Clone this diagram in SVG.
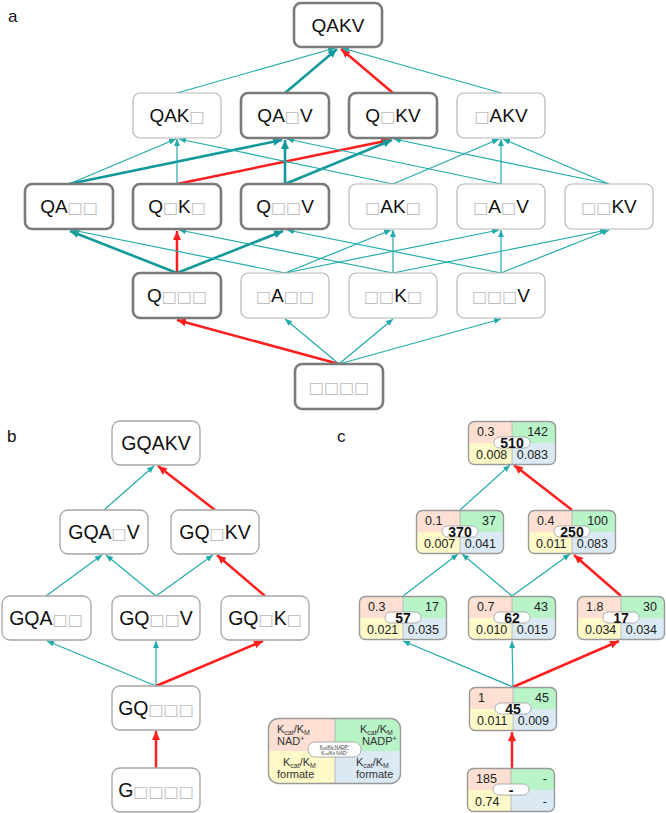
<svg xmlns="http://www.w3.org/2000/svg" xmlns:xlink="http://www.w3.org/1999/xlink" width="666" height="813" viewBox="0 0 666 813">
<style>
.lbl{font-family:"Liberation Sans",Arial,sans-serif;font-size:17px;fill:#111}
.na rect{fill:#fff;stroke:#b5b5b5;stroke-width:1.2}
.na.hi rect{stroke:#7a7a7a;stroke-width:2.6}
.na text{font-family:"Liberation Sans",Arial,sans-serif;font-size:19px;fill:#111;text-anchor:middle}
.nb rect{fill:#fff;stroke:#a5a5a5;stroke-width:1.3}
.nb text{font-family:"Liberation Sans",Arial,sans-serif;font-size:19.5px;fill:#111;text-anchor:middle}
.g{fill:#bdbdbd;font-family:"DejaVu Sans",sans-serif;font-size:16px}
.t{stroke:#22abab;stroke-width:1.2;fill:none;marker-end:url(#mt)}
.tk{stroke:#14999a;stroke-width:2.6;fill:none;marker-end:url(#mk)}
.r{stroke:#ff1e1e;stroke-width:2.5;fill:none;marker-end:url(#mr)}
.q{font-family:"Liberation Sans",Arial,sans-serif;font-size:12.5px;fill:#222}
.e{text-anchor:end}
.num{font-family:"Liberation Sans",Arial,sans-serif;font-size:14px;font-weight:bold;fill:#111;text-anchor:middle}
.lg{font-family:"Liberation Sans",Arial,sans-serif;font-size:11px;fill:#333}
.sub{font-size:7px}
.tiny{font-family:"Liberation Sans",Arial,sans-serif;font-size:4.6px;fill:#333;text-anchor:middle}
</style>
<defs>
<marker id="mt" markerUnits="userSpaceOnUse" markerWidth="7" markerHeight="6" viewBox="0 0 7 6" refX="7" refY="3" orient="auto"><path d="M0,0 L7,3 L0,6 z" fill="#22abab"/></marker>
<marker id="mk" markerUnits="userSpaceOnUse" markerWidth="9" markerHeight="8" viewBox="0 0 9 8" refX="9" refY="4" orient="auto"><path d="M0,0 L9,4 L0,8 z" fill="#14999a"/></marker>
<marker id="mr" markerUnits="userSpaceOnUse" markerWidth="9" markerHeight="8" viewBox="0 0 9 8" refX="9" refY="4" orient="auto"><path d="M0,0 L9,4 L0,8 z" fill="#ff1e1e"/></marker>
<g id="cnode">
<path d="M0,22 V6 A6,6 0 0 1 6,0 H44 V22 Z" fill="#fde0d3"/>
<path d="M44,0 H82 A6,6 0 0 1 88,6 V22 H44 Z" fill="#b8f4c8"/>
<path d="M0,22 H44 V44 H6 A6,6 0 0 1 0,38 Z" fill="#fdf9c8"/>
<path d="M44,22 H88 V38 A6,6 0 0 1 82,44 H44 Z" fill="#dbe9f5"/>
<path d="M44,0 V44" stroke="#b0b0b0" stroke-width="0.8"/>
<rect x="0.5" y="0.5" width="87" height="43" rx="6" fill="none" stroke="#9a9a9a" stroke-width="1.4"/>
<rect x="26" y="16" width="36" height="11" rx="5.5" fill="#fff" stroke="#999" stroke-width="0.8"/>
</g>
</defs>

<text class="lbl" x="8" y="22">a</text>
<text class="lbl" x="7" y="442">b</text>
<text class="lbl" x="337" y="442">c</text>

<g id="connectors">
<!-- panel a -->
<line class="t" x1="177" y1="93" x2="335" y2="48"/>
<line class="tk" x1="285" y1="93" x2="337" y2="49"/>
<line class="r" x1="393" y1="93" x2="341" y2="49"/>
<line class="t" x1="501" y1="93" x2="342" y2="48"/>

<line class="t" x1="69" y1="184" x2="176" y2="139"/>
<line class="tk" x1="69" y1="184" x2="282" y2="140"/>
<line class="t" x1="177" y1="184" x2="177" y2="139"/>
<line class="r" x1="177" y1="184" x2="390" y2="140"/>
<line class="tk" x1="285" y1="184" x2="285" y2="140"/>
<line class="tk" x1="285" y1="184" x2="392" y2="140"/>
<line class="t" x1="393" y1="184" x2="179" y2="139"/>
<line class="t" x1="393" y1="184" x2="499" y2="139"/>
<line class="t" x1="501" y1="184" x2="287" y2="139"/>
<line class="t" x1="501" y1="184" x2="501" y2="139"/>
<line class="t" x1="609" y1="184" x2="394" y2="139"/>
<line class="t" x1="609" y1="184" x2="503" y2="139"/>

<line class="tk" x1="177" y1="273" x2="70" y2="231"/>
<line class="r" x1="177" y1="273" x2="177" y2="231"/>
<line class="tk" x1="177" y1="273" x2="283" y2="231"/>
<line class="t" x1="285" y1="273" x2="72" y2="230"/>
<line class="t" x1="285" y1="273" x2="391" y2="230"/>
<line class="t" x1="285" y1="273" x2="499" y2="230"/>
<line class="t" x1="393" y1="273" x2="179" y2="230"/>
<line class="t" x1="393" y1="273" x2="393" y2="230"/>
<line class="t" x1="393" y1="273" x2="607" y2="230"/>
<line class="t" x1="501" y1="273" x2="287" y2="230"/>
<line class="t" x1="501" y1="273" x2="501" y2="230"/>
<line class="t" x1="501" y1="273" x2="609" y2="230"/>

<line class="r" x1="339" y1="364" x2="177" y2="320"/>
<line class="t" x1="339" y1="364" x2="285" y2="319"/>
<line class="t" x1="339" y1="364" x2="393" y2="319"/>
<line class="t" x1="339" y1="364" x2="501" y2="319"/>

<!-- panel b -->
<line class="t" x1="104" y1="510" x2="154" y2="466"/>
<line class="r" x1="215" y1="510" x2="158" y2="466"/>
<line class="t" x1="46" y1="596" x2="102" y2="555"/>
<line class="t" x1="156" y1="596" x2="106" y2="555"/>
<line class="t" x1="156" y1="596" x2="213" y2="555"/>
<line class="r" x1="265" y1="596" x2="217" y2="555"/>
<line class="t" x1="156" y1="686" x2="47" y2="641"/>
<line class="t" x1="156" y1="686" x2="156" y2="641"/>
<line class="r" x1="156" y1="686" x2="263" y2="641"/>
<line class="r" x1="156" y1="768" x2="156" y2="731"/>

<!-- panel c -->
<line class="t" x1="460" y1="510" x2="510" y2="465"/>
<line class="r" x1="572" y1="510" x2="514" y2="465"/>
<line class="t" x1="403" y1="596" x2="458" y2="554"/>
<line class="t" x1="512" y1="596" x2="462" y2="554"/>
<line class="t" x1="512" y1="596" x2="570" y2="554"/>
<line class="r" x1="621" y1="596" x2="574" y2="555"/>
<line class="t" x1="513" y1="687" x2="403" y2="641"/>
<line class="t" x1="513" y1="687" x2="512" y2="641"/>
<line class="r" x1="513" y1="687" x2="619" y2="641"/>
<line class="r" x1="512" y1="768" x2="512" y2="732"/>
</g>

<!-- panel a nodes -->
<g id="a_QAKV" class="na hi"><rect x="294" y="3" width="88" height="44" rx="7"/><text x="338" y="32">QAKV</text></g>
<g id="a_QAK_" class="na"><rect x="133" y="93" width="88" height="45" rx="7"/><text x="177" y="122">QAK<tspan class="g">□</tspan></text></g>
<g id="a_QA_V" class="na hi"><rect x="241" y="93" width="88" height="45" rx="7"/><text x="285" y="122">QA<tspan class="g">□</tspan>V</text></g>
<g id="a_Q_KV" class="na hi"><rect x="349" y="93" width="88" height="45" rx="7"/><text x="393" y="122">Q<tspan class="g">□</tspan>KV</text></g>
<g id="a__AKV" class="na"><rect x="457" y="93" width="88" height="45" rx="7"/><text x="501" y="122"><tspan class="g">□</tspan>AKV</text></g>

<g id="a_QA__" class="na hi"><rect x="25" y="184" width="88" height="45" rx="7"/><text x="69" y="213">QA<tspan class="g">□□</tspan></text></g>
<g id="a_Q_K_" class="na hi"><rect x="133" y="184" width="88" height="45" rx="7"/><text x="177" y="213">Q<tspan class="g">□</tspan>K<tspan class="g">□</tspan></text></g>
<g id="a_Q__V" class="na hi"><rect x="241" y="184" width="88" height="45" rx="7"/><text x="285" y="213">Q<tspan class="g">□□</tspan>V</text></g>
<g id="a__AK_" class="na"><rect x="349" y="184" width="88" height="45" rx="7"/><text x="393" y="213"><tspan class="g">□</tspan>AK<tspan class="g">□</tspan></text></g>
<g id="a__A_V" class="na"><rect x="457" y="184" width="88" height="45" rx="7"/><text x="501" y="213"><tspan class="g">□</tspan>A<tspan class="g">□</tspan>V</text></g>
<g id="a___KV" class="na"><rect x="565" y="184" width="88" height="45" rx="7"/><text x="609" y="213"><tspan class="g">□□</tspan>KV</text></g>

<g id="a_Q___" class="na hi"><rect x="133" y="273" width="88" height="45" rx="7"/><text x="177" y="302">Q<tspan class="g">□□□</tspan></text></g>
<g id="a__A__" class="na"><rect x="241" y="273" width="88" height="45" rx="7"/><text x="285" y="302"><tspan class="g">□</tspan>A<tspan class="g">□□</tspan></text></g>
<g id="a___K_" class="na"><rect x="349" y="273" width="88" height="45" rx="7"/><text x="393" y="302"><tspan class="g">□□</tspan>K<tspan class="g">□</tspan></text></g>
<g id="a____V" class="na"><rect x="457" y="273" width="88" height="45" rx="7"/><text x="501" y="302"><tspan class="g">□□□</tspan>V</text></g>

<g id="a_____" class="na hi"><rect x="295" y="364" width="88" height="45" rx="7"/><text x="339" y="393"><tspan class="g">□□□□</tspan></text></g>

<!-- panel b nodes -->
<g id="b_GQAKV" class="nb"><rect x="112" y="421" width="88" height="44" rx="8"/><text x="156" y="450">GQAKV</text></g>
<g id="b_GQA_V" class="nb"><rect x="60" y="510" width="88" height="44" rx="8"/><text x="104" y="539">GQA<tspan class="g">□</tspan>V</text></g>
<g id="b_GQ_KV" class="nb"><rect x="171" y="510" width="88" height="44" rx="8"/><text x="215" y="539">GQ<tspan class="g">□</tspan>KV</text></g>
<g id="b_GQA__" class="nb"><rect x="2" y="596" width="89" height="44" rx="8"/><text x="46" y="625">GQA<tspan class="g">□□</tspan></text></g>
<g id="b_GQ__V" class="nb"><rect x="112" y="596" width="88" height="44" rx="8"/><text x="156" y="625">GQ<tspan class="g">□□</tspan>V</text></g>
<g id="b_GQ_K_" class="nb"><rect x="221" y="596" width="88" height="44" rx="8"/><text x="265" y="625">GQ<tspan class="g">□</tspan>K<tspan class="g">□</tspan></text></g>
<g id="b_GQ___" class="nb"><rect x="112" y="686" width="88" height="44" rx="8"/><text x="156" y="715">GQ<tspan class="g">□□□</tspan></text></g>
<g id="b_G____" class="nb"><rect x="112" y="768" width="88" height="44" rx="8"/><text x="156" y="797">G<tspan class="g">□□□□</tspan></text></g>

<!-- panel c nodes -->
<g id="c_510" transform="translate(468,421)"><use xlink:href="#cnode"/><text class="q" x="9" y="15">0.3</text><text class="q e" x="80" y="15">142</text><text class="q" x="8" y="38">0.008</text><text class="q e" x="80" y="38">0.083</text><text class="num" x="44" y="27">510</text></g>
<g id="c_370" transform="translate(416,510)"><use xlink:href="#cnode"/><text class="q" x="9" y="15">0.1</text><text class="q e" x="80" y="15">37</text><text class="q" x="8" y="38">0.007</text><text class="q e" x="80" y="38">0.041</text><text class="num" x="44" y="27">370</text></g>
<g id="c_250" transform="translate(528,510)"><use xlink:href="#cnode"/><text class="q" x="9" y="15">0.4</text><text class="q e" x="80" y="15">100</text><text class="q" x="8" y="38">0.011</text><text class="q e" x="80" y="38">0.083</text><text class="num" x="44" y="27">250</text></g>
<g id="c_57" transform="translate(359,596)"><use xlink:href="#cnode"/><text class="q" x="9" y="15">0.3</text><text class="q e" x="80" y="15">17</text><text class="q" x="8" y="38">0.021</text><text class="q e" x="80" y="38">0.035</text><text class="num" x="44" y="27">57</text></g>
<g id="c_62" transform="translate(468,596)"><use xlink:href="#cnode"/><text class="q" x="9" y="15">0.7</text><text class="q e" x="80" y="15">43</text><text class="q" x="8" y="38">0.010</text><text class="q e" x="80" y="38">0.015</text><text class="num" x="44" y="27">62</text></g>
<g id="c_17" transform="translate(577,596)"><use xlink:href="#cnode"/><text class="q" x="9" y="15">1.8</text><text class="q e" x="80" y="15">30</text><text class="q" x="8" y="38">0.034</text><text class="q e" x="80" y="38">0.034</text><text class="num" x="44" y="27">17</text></g>
<g id="c_45" transform="translate(469,687)"><use xlink:href="#cnode"/><text class="q" x="9" y="15">1</text><text class="q e" x="80" y="15">45</text><text class="q" x="8" y="38">0.011</text><text class="q e" x="80" y="38">0.009</text><text class="num" x="44" y="27">45</text></g>
<g id="c_none" transform="translate(467,768)"><use xlink:href="#cnode"/><text class="q" x="9" y="15">185</text><text class="q e" x="80" y="15">-</text><text class="q" x="8" y="38">0.74</text><text class="q e" x="80" y="38">-</text><text class="num" x="44" y="27">-</text></g>

<!-- legend -->
<g id="legend">
<path d="M268,751 V728 A10,10 0 0 1 278,718 H335 V751 Z" fill="#fde0d3"/>
<path d="M335,718 H391 A10,10 0 0 1 401,728 V751 H335 Z" fill="#b8f4c8"/>
<path d="M268,751 H335 V784 H278 A10,10 0 0 1 268,774 Z" fill="#fdf9c8"/>
<path d="M335,751 H401 V774 A10,10 0 0 1 391,784 H335 Z" fill="#dbe9f5"/>
<path d="M335,718 V784" stroke="#aaa" stroke-width="0.8"/>
<rect x="268.5" y="718.5" width="132" height="65" rx="10" fill="none" stroke="#999" stroke-width="1.4"/>
<text class="lg" x="277" y="733">K<tspan class="sub" dy="2">cat</tspan><tspan dy="-2">/K</tspan><tspan class="sub" dy="2">M</tspan></text>
<text class="lg" x="277" y="745">NAD<tspan class="sub" dy="-4">+</tspan></text>
<text class="lg" x="360" y="733">K<tspan class="sub" dy="2">cat</tspan><tspan dy="-2">/K</tspan><tspan class="sub" dy="2">M</tspan></text>
<text class="lg" x="362" y="745">NADP<tspan class="sub" dy="-4">+</tspan></text>
<text class="lg" x="283" y="766">K<tspan class="sub" dy="2">cat</tspan><tspan dy="-2">/K</tspan><tspan class="sub" dy="2">M</tspan></text>
<text class="lg" x="277" y="778">formate</text>
<text class="lg" x="356" y="766">K<tspan class="sub" dy="2">cat</tspan><tspan dy="-2">/K</tspan><tspan class="sub" dy="2">M</tspan></text>
<text class="lg" x="356" y="778">formate</text>
<rect x="308" y="742" width="53" height="15" rx="7" fill="#fff" stroke="#999" stroke-width="0.8"/>
<text class="tiny" x="334.5" y="748.5">K<tspan font-size="3px">cat</tspan>/K<tspan font-size="3px">M</tspan> NADP<tspan font-size="3px" dy="-1.5">+</tspan></text>
<line x1="320" y1="749.6" x2="349" y2="749.6" stroke="#333" stroke-width="0.4"/>
<text class="tiny" x="334.5" y="754.8">K<tspan font-size="3px">cat</tspan>/K<tspan font-size="3px">M</tspan> NAD<tspan font-size="3px" dy="-1.5">+</tspan></text>
</g>
</svg>
